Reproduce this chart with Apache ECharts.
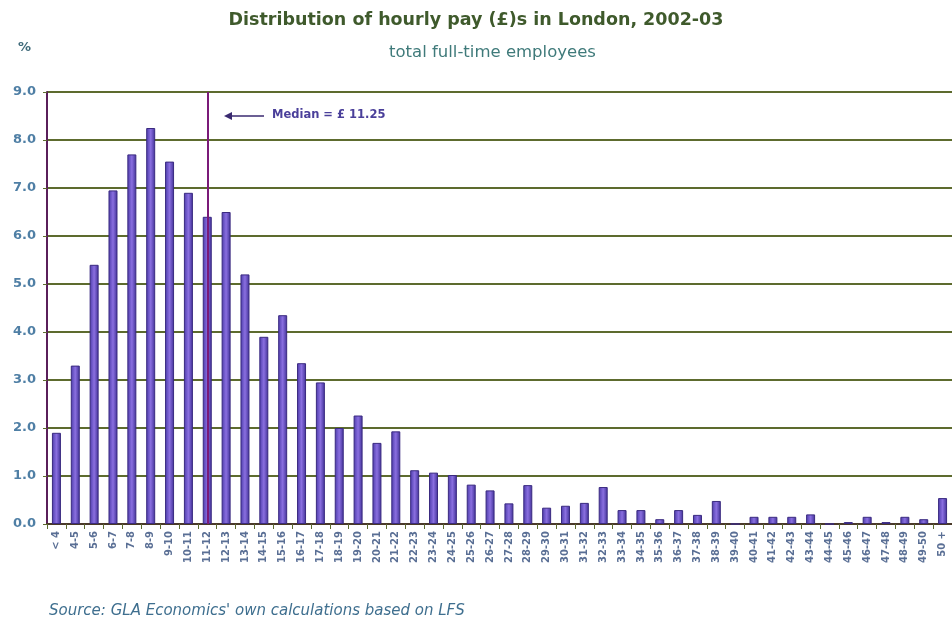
<!DOCTYPE html>
<html>
<head>
<meta charset="utf-8">
<script src="https://cdn.jsdelivr.net/npm/echarts@6/dist/echarts.min.js"></script>
<style>
html,body{margin:0;padding:0;background:#fff;}
#chart{width:952px;height:626px;}
</style>
</head>
<body>
<div id="chart"></div>
<script>
// ---- data ----
const categories = ["< 4","4-5","5-6","6-7","7-8","8-9","9-10","10-11","11-12","12-13",
  "13-14","14-15","15-16","16-17","17-18","18-19","19-20","20-21","21-22","22-23",
  "23-24","24-25","25-26","26-27","27-28","28-29","29-30","30-31","31-32","32-33",
  "33-34","34-35","35-36","36-37","37-38","38-39","39-40","40-41","41-42","42-43",
  "43-44","44-45","45-46","46-47","47-48","48-49","49-50","50 +"];
const shares = [1.9,3.3,5.4,6.95,7.7,8.25,7.55,6.9,6.4,6.5,
  5.2,3.9,4.35,3.35,2.95,2.0,2.26,1.69,1.93,1.12,
  1.07,1.02,0.82,0.7,0.43,0.81,0.34,0.38,0.44,0.77,
  0.29,0.29,0.1,0.29,0.19,0.48,0,0.15,0.15,0.15,
  0.2,0,0.04,0.15,0.04,0.15,0.1,0.54];
const yTicks = [0,1,2,3,4,5,6,7,8,9];
const medianBin = "11-12";
const medianLabel = "Median = £ 11.25";
const titleText = "Distribution of hourly pay (£)s in London, 2002-03";
const subtitleText = "total full-time employees";
const sourceText = "Source: GLA Economics' own calculations based on LFS";

const chart = echarts.init(document.getElementById('chart'), null, {renderer:'canvas'});
const gridCol = '#5d6b2e';
const option = {
  animation:false,
  backgroundColor:'#ffffff',
  title:[
    {text:titleText,left:'center',top:6,textStyle:{fontFamily:'DejaVu Sans',fontWeight:'bold',fontSize:17.5,color:'#3f5a2c'}},
    {text:subtitleText,left:384,top:39,textStyle:{fontFamily:'DejaVu Sans',fontWeight:'normal',fontSize:16.5,color:'#3f7a7a'}},
    {text:'%',left:13,top:36,textStyle:{fontFamily:'DejaVu Sans',fontWeight:'bold',fontSize:13,color:'#3f6a7a'}},
    {text:sourceText,left:44,top:599,textStyle:{fontFamily:'DejaVu Sans',fontStyle:'italic',fontWeight:'normal',fontSize:15,color:'#3f6f8f'}}
  ],
  grid:{left:47,right:-4,top:92,bottom:102,containLabel:false},
  xAxis:{
    type:'category',data:categories,
    axisLine:{lineStyle:{color:'#4a3a2a',width:2}},
    axisTick:{show:true,length:5,alignWithLabel:false,lineStyle:{color:gridCol}},
    axisLabel:{interval:0,rotate:90,fontFamily:'DejaVu Sans',fontSize:10,fontWeight:'bold',color:'#5a6f95',margin:7}
  },
  yAxis:{
    type:'value',min:yTicks[0],max:yTicks[yTicks.length-1],interval:1,
    axisLine:{show:true,lineStyle:{color:'#5a1f5a',width:2}},
    axisTick:{show:true,length:4,lineStyle:{color:gridCol}},
    axisLabel:{formatter:v=>v.toFixed(1),fontFamily:'DejaVu Sans',fontSize:13,fontWeight:'bold',color:'#4f7fa5',margin:11},
    splitLine:{show:true,lineStyle:{color:gridCol,width:2}}
  },
  series:[{
    type:'bar',data:shares,barWidth:9,
    itemStyle:{
      color:new echarts.graphic.LinearGradient(0,0,1,0,[
        {offset:0,color:'#4a3aa8'},{offset:0.5,color:'#8a6fe0'},{offset:1,color:'#3f2f95'}]),
      borderColor:'#3a2a80',borderWidth:1
    },
    markLine:{
      silent:true,symbol:['none','none'],
      lineStyle:{color:'#7a1a78',width:2,type:'solid'},
      label:{show:false},
      data:[{xAxis:medianBin}]
    }
  }],
  graphic:[
    {type:'line',shape:{x1:228,y1:116,x2:264,y2:116},style:{stroke:'#3a2a70',lineWidth:1.5}},
    {type:'polygon',shape:{points:[[224,116],[232,112],[232,120]]},style:{fill:'#3a2a70'}},
    {type:'text',left:272,top:109,style:{text:medianLabel,font:'bold 11.5px "DejaVu Sans"',fill:'#4a3f9a'}}
  ]
};
chart.setOption(option);
</script>
</body>
</html>
